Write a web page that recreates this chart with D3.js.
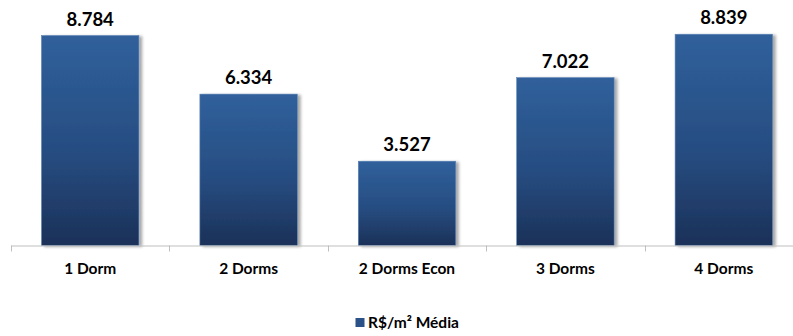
<!DOCTYPE html>
<html>
<head>
<meta charset="utf-8">
<script src="https://cdn.jsdelivr.net/npm/d3@7/dist/d3.min.js"></script>
<style>
  html, body { margin: 0; padding: 0; background: #fff; }
  svg { display: block; }
  text { font-family: Lato, "Open Sans", sans-serif; font-weight: bold; fill: #000; }
</style>
</head>
<body>
<svg id="chart" width="793" height="336"></svg>
<script>
const categories = ["1 Dorm", "2 Dorms", "2 Dorms Econ", "3 Dorms", "4 Dorms"];
const values = [8.784, 6.334, 3.527, 7.022, 8.839];
const valueLabels = ["8.784", "6.334", "3.527", "7.022", "8.839"];
const seriesName = "R$/m² Média";

const svg = d3.select("#chart");
const W = 793, H = 336;
const x0 = 11, bandW = 158.4;
const baseY = 245.5;

const x = d3.scaleBand().domain(categories).range([x0, x0 + bandW * categories.length]).paddingInner(0.385).paddingOuter(0.1925);
const y = d3.scaleLinear().domain([0, 10]).range([baseY, baseY - 239]);

const defs = svg.append("defs");
const grad = defs.append("linearGradient").attr("id", "barGrad").attr("x1", 0).attr("y1", 0).attr("x2", 0).attr("y2", 1);
grad.append("stop").attr("offset", "0%").attr("stop-color", "#30609b");
grad.append("stop").attr("offset", "55%").attr("stop-color", "#274d82");
grad.append("stop").attr("offset", "100%").attr("stop-color", "#1b3158");

const shadow = defs.append("filter").attr("id", "shadow").attr("x", "-10%").attr("y", "-10%").attr("width", "130%").attr("height", "120%");
shadow.append("feGaussianBlur").attr("in", "SourceAlpha").attr("stdDeviation", 1.8).attr("result", "blur");
shadow.append("feOffset").attr("in", "blur").attr("dx", 3).attr("dy", 1).attr("result", "off");
shadow.append("feComponentTransfer").attr("in", "off").attr("result", "sh")
  .append("feFuncA").attr("type", "linear").attr("slope", 0.35);
const merge = shadow.append("feMerge");
merge.append("feMergeNode").attr("in", "sh");
merge.append("feMergeNode").attr("in", "SourceGraphic");

const data = categories.map((c, i) => ({ c, v: values[i], l: valueLabels[i] }));

svg.append("g").selectAll("rect").data(data).join("rect")
  .attr("x", d => x(d.c))
  .attr("y", d => y(d.v))
  .attr("width", x.bandwidth())
  .attr("height", d => baseY - y(d.v))
  .attr("fill", "url(#barGrad)")
  .attr("stroke", "#5b82b5")
  .attr("stroke-width", 0.6)
  .attr("filter", "url(#shadow)");

// axis
const axisG = svg.append("g");
axisG.append("line").attr("x1", x0).attr("x2", W + 20).attr("y1", baseY + 0.5).attr("y2", baseY + 0.5)
  .attr("stroke", "#bfbfbf").attr("stroke-width", 1);
axisG.selectAll("line.tick").data(d3.range(categories.length + 1)).join("line")
  .attr("class", "tick")
  .attr("x1", i => Math.round(x0 + i * bandW) + 0.5)
  .attr("x2", i => Math.round(x0 + i * bandW) + 0.5)
  .attr("y1", baseY).attr("y2", baseY + 6)
  .attr("stroke", "#bfbfbf").attr("stroke-width", 1);

// category labels
svg.append("g").selectAll("text").data(data).join("text")
  .attr("x", d => x(d.c) + x.bandwidth() / 2)
  .attr("y", 274)
  .attr("text-anchor", "middle")
  .attr("font-size", 15.5)
  .text(d => d.c);

// value labels
svg.append("g").selectAll("text").data(data).join("text")
  .attr("x", d => x(d.c) + x.bandwidth() / 2)
  .attr("y", d => y(d.v) - 10)
  .attr("text-anchor", "middle")
  .attr("font-size", 18.5)
  .text(d => d.l);

// legend
const lg = svg.append("g");
lg.append("rect").attr("x", 355.5).attr("y", 318).attr("width", 9).attr("height", 9)
  .attr("fill", "#2a5289");
lg.append("text").attr("x", 368).attr("y", 327.5).attr("font-size", 15.5).text(seriesName);
</script>
</body>
</html>
